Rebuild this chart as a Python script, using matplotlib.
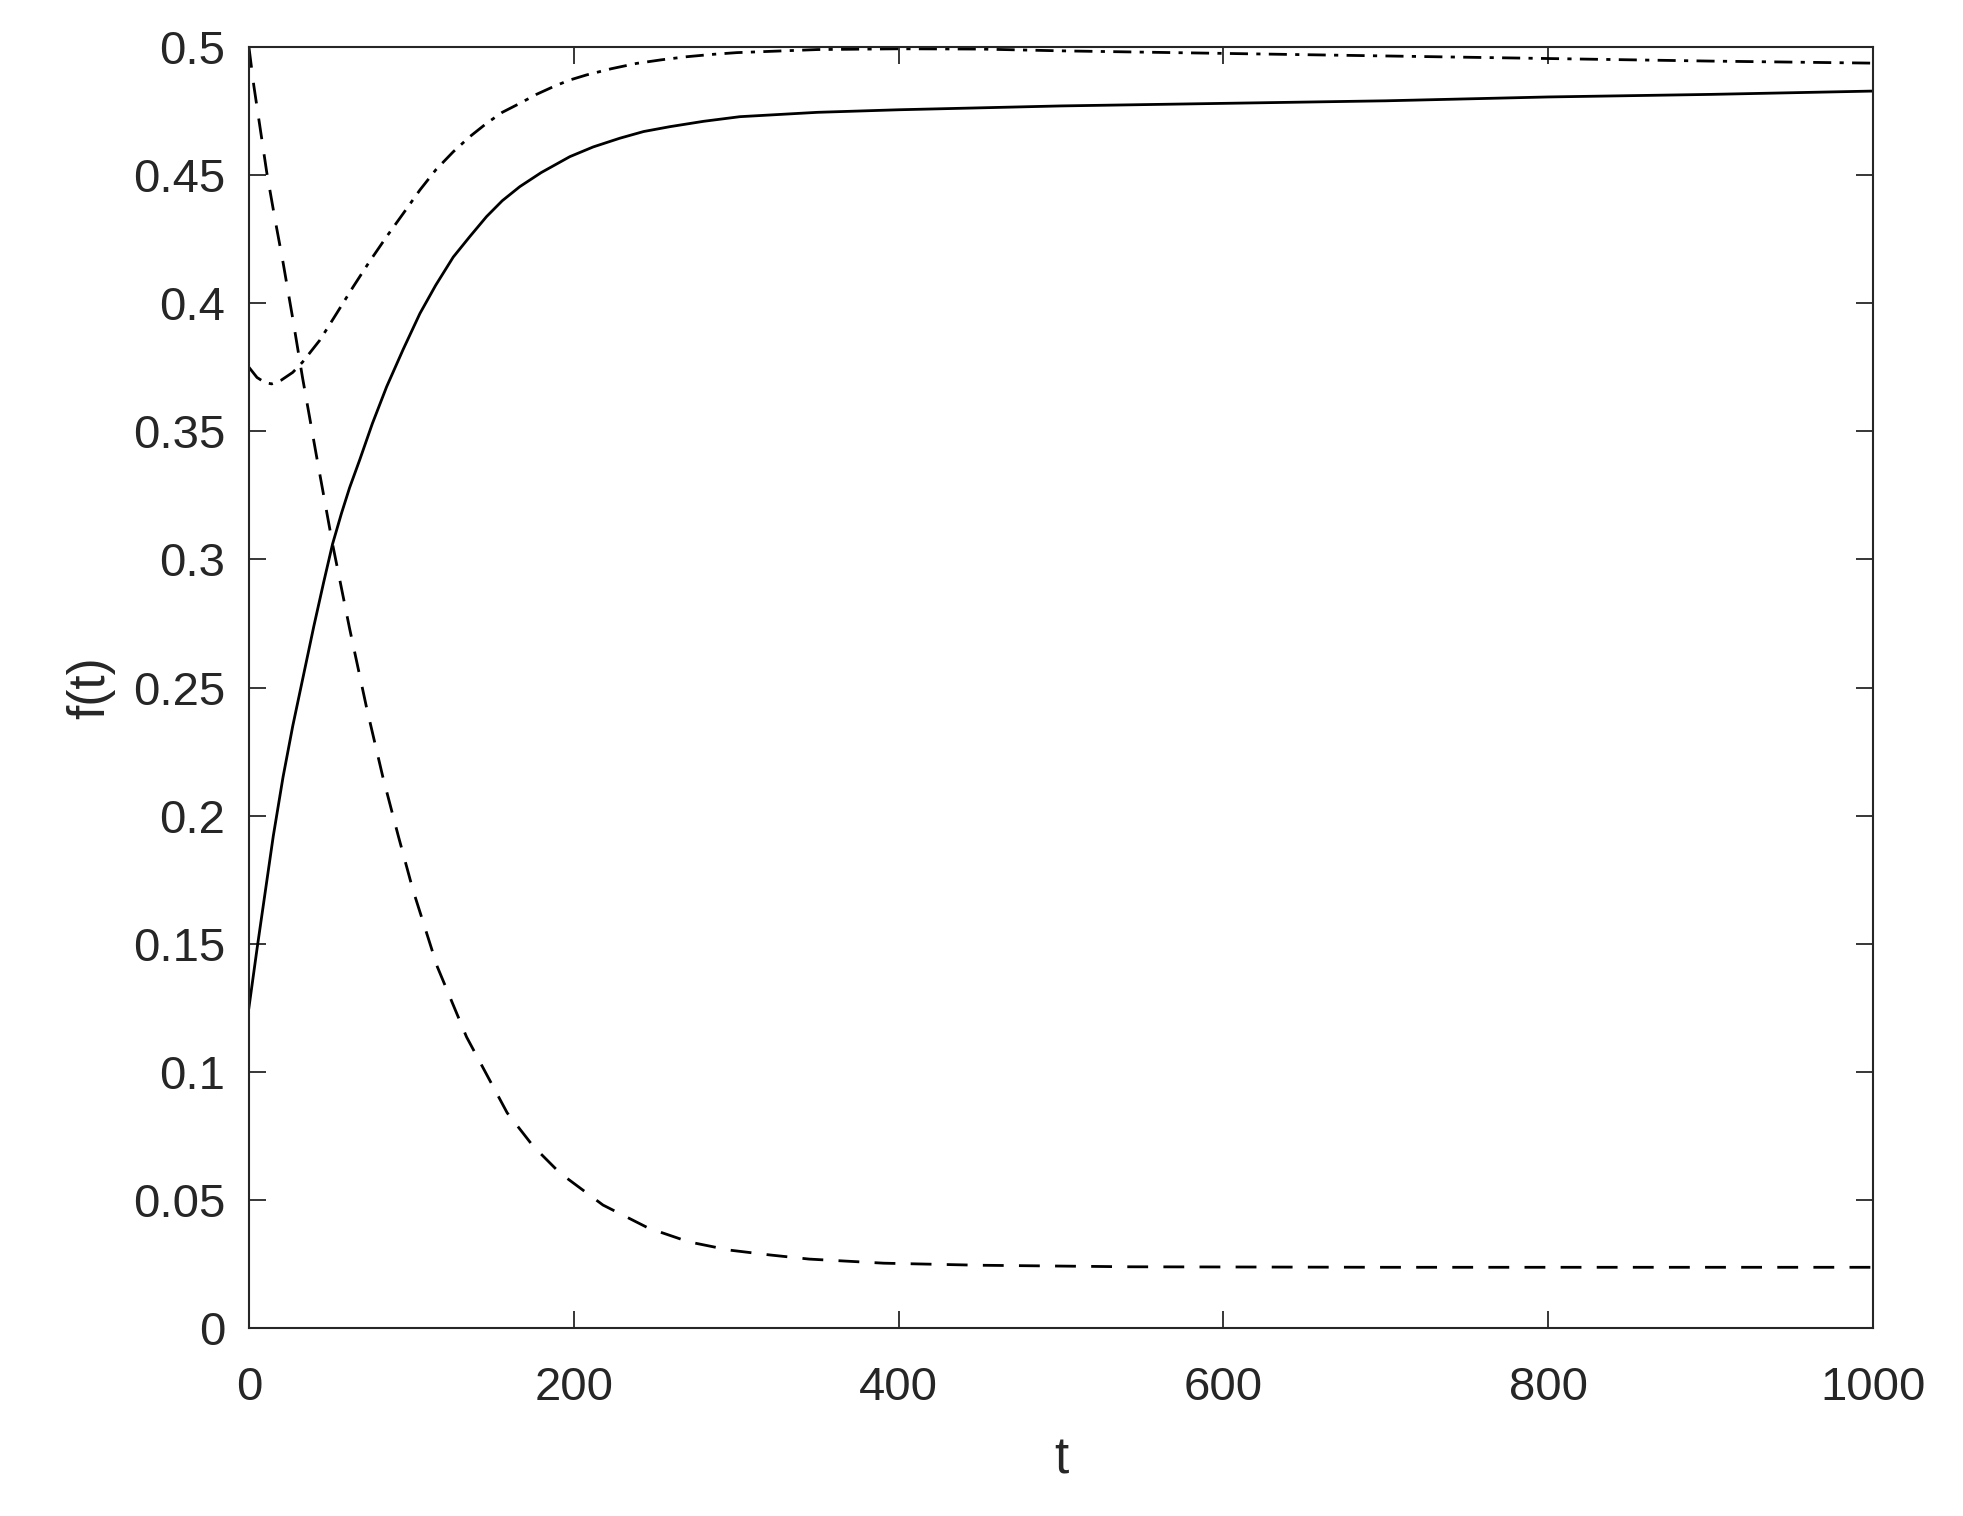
import matplotlib
matplotlib.use("Agg")
import matplotlib.pyplot as plt

#---------------------------------------------------
#  Data
#---------------------------------------------------
t_solid = [0, 5, 10, 15, 21, 27, 33, 40, 46, 51.5, 57, 62, 68.3, 76, 84.8, 95, 105.3,
           115, 125.8, 136, 146.3, 156, 166.8, 180, 197.6, 212, 228.4, 243, 259.2,
           280, 302.3, 350, 400, 500, 600, 700, 800, 900, 1000]
f_solid = [0.125, 0.148, 0.170, 0.192, 0.215, 0.235, 0.253, 0.274, 0.291, 0.306,
           0.318, 0.328, 0.339, 0.353, 0.3674, 0.382, 0.396, 0.407, 0.418, 0.426,
           0.4338, 0.440, 0.4455, 0.451, 0.4572, 0.461, 0.4644, 0.467, 0.4689,
           0.471, 0.4728, 0.4745, 0.4755, 0.477, 0.478, 0.479, 0.4805, 0.4815, 0.4828]

t_dashdot = [0, 5, 10, 14, 20, 27, 33, 43.7, 54, 64.2, 74, 84.8, 95, 105.3, 115,
             125.8, 136, 146.3, 156, 166.8, 177, 187.4, 197, 207.9, 223, 238.7, 254,
             269.5, 285, 300.3, 350, 400, 450, 500, 600, 700, 800, 900, 1000]
f_dashdot = [0.375, 0.371, 0.369, 0.3685, 0.370, 0.373, 0.377, 0.3856, 0.396, 0.4064,
             0.416, 0.426, 0.435, 0.4442, 0.452, 0.4591, 0.465, 0.4702, 0.4745, 0.478,
             0.4815, 0.4845, 0.487, 0.4891, 0.4915, 0.4936, 0.495, 0.4962, 0.4971,
             0.4978, 0.499, 0.4993, 0.4992, 0.4985, 0.4975, 0.4965, 0.4955, 0.4945, 0.4937]

t_dashed = [0, 3, 7, 11, 16, 21, 27, 33, 42, 51.5, 62, 72.5, 82.5, 92, 101, 116,
            134, 159, 175, 191.5, 218, 246, 271, 296, 321, 345, 391, 450, 542, 700, 850, 1000]
f_dashed = [0.5, 0.485, 0.468, 0.451, 0.433, 0.416, 0.394, 0.371, 0.339, 0.306,
            0.273, 0.242, 0.215, 0.192, 0.171, 0.141, 0.1136, 0.084, 0.071, 0.0605,
            0.048, 0.039, 0.0336, 0.0304, 0.0285, 0.0269, 0.0253, 0.0245, 0.0239,
            0.0237, 0.0237, 0.0237]

xticks = [0, 200, 400, 600, 800, 1000]
yticks = [0, 0.05, 0.1, 0.15, 0.2, 0.25, 0.3, 0.35, 0.4, 0.45, 0.5]
ytick_labels = ["0", "0.05", "0.1", "0.15", "0.2", "0.25", "0.3", "0.35", "0.4", "0.45", "0.5"]

#---------------------------------------------------
#  Graph
#---------------------------------------------------
plt.rcParams['font.family'] = ['Liberation Sans', 'DejaVu Sans']
plt.rcParams['lines.scale_dashes'] = False
dark = '#262626'

fig = plt.figure(figsize=(19.63, 15.16), dpi=100)
ax = fig.add_axes([0.1268, 0.124, 0.8274, 0.845])

ax.plot(t_solid, f_solid, color='black', linewidth=2.0, linestyle='-')
ax.plot(t_dashdot, f_dashdot, color='black', linewidth=2.0, linestyle=(0, (13, 6, 3, 6)))
ax.plot(t_dashed, f_dashed, color='black', linewidth=2.0, linestyle=(0, (15, 11)))

ax.set_xlim(0, 1000)
ax.set_ylim(0, 0.5)
ax.set_xticks(xticks)
ax.set_yticks(yticks)
ax.set_yticklabels(ytick_labels)

ax.tick_params(direction='in', length=12, width=1.3, colors=dark, labelsize=34,
               top=True, right=True)
ax.tick_params(axis='y', pad=17)
ax.tick_params(axis='x', pad=27)
for s in ax.spines.values():
    s.set_color(dark)
    s.set_linewidth(1.5)

ax.set_xlabel('t', fontsize=37, color=dark)
ax.set_ylabel('f(t)', fontsize=37, color=dark)
ax.xaxis.set_label_coords(0.5, -0.084)
ax.yaxis.set_label_coords(-0.0825, 0.5)

fig.savefig('out.png', dpi=100)
